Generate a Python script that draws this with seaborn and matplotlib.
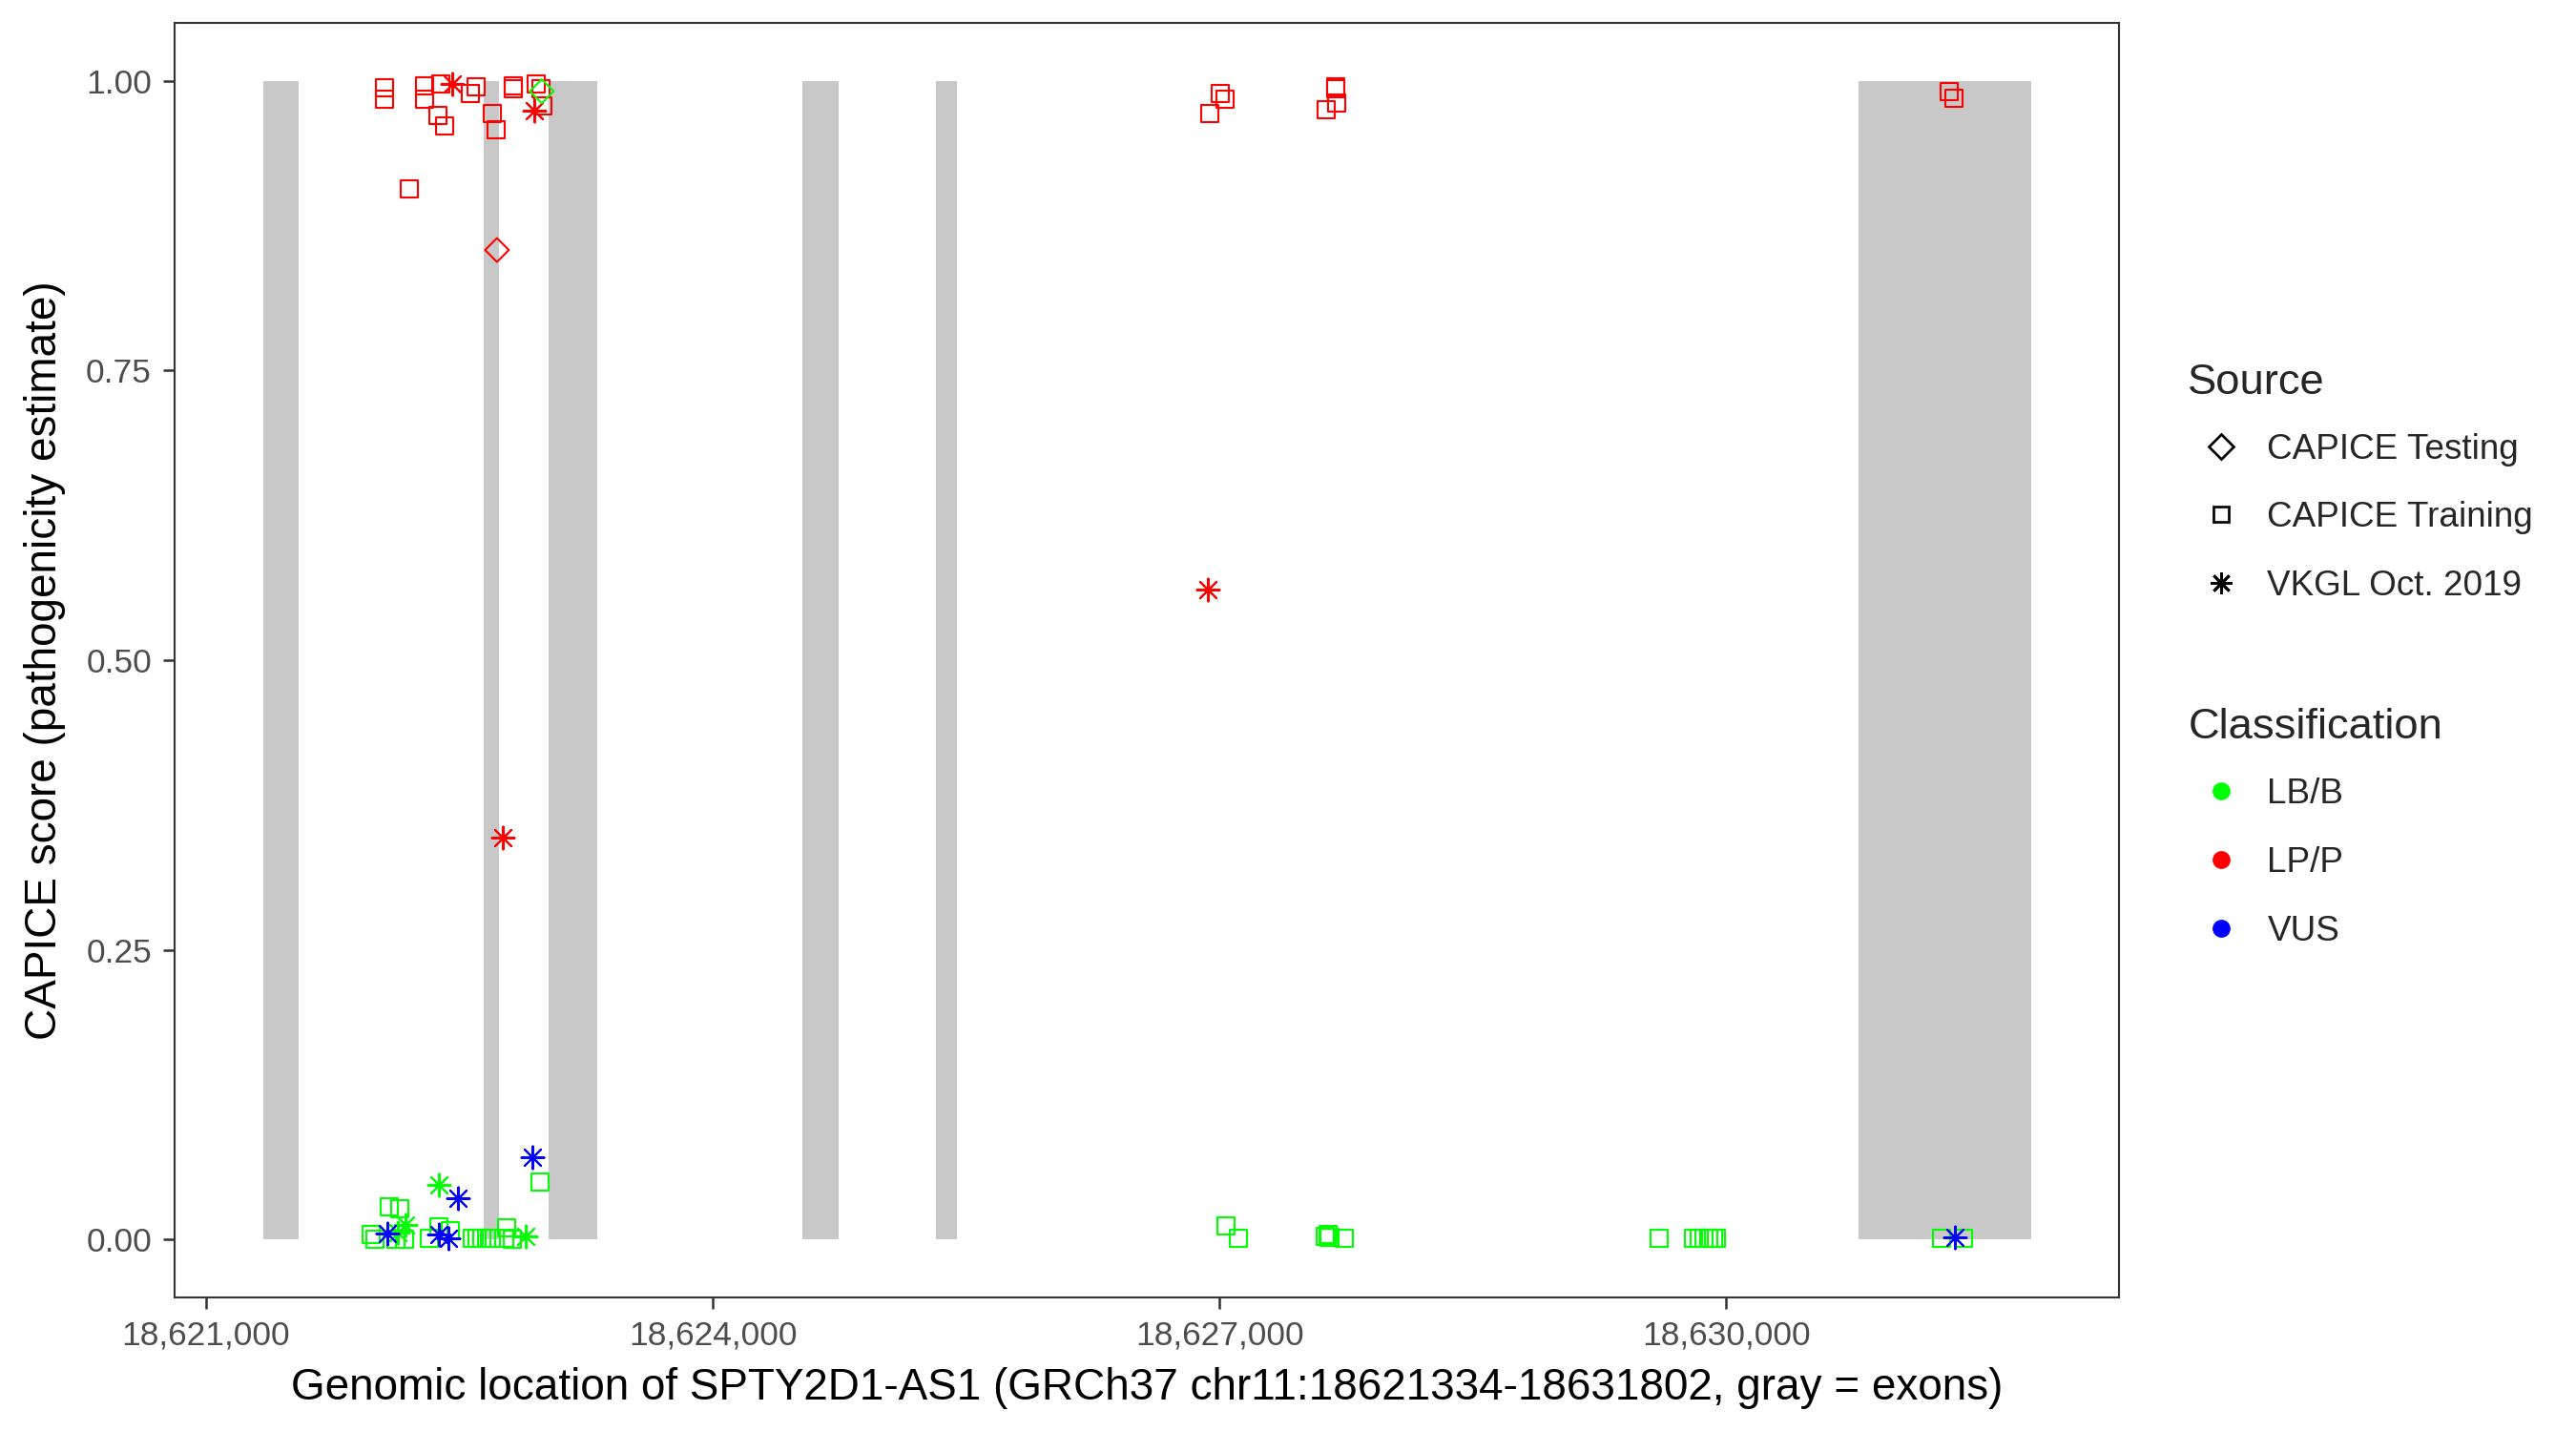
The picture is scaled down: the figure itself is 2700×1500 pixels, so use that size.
import pandas as pd
import numpy as np
import matplotlib
matplotlib.use("Agg")
import matplotlib.pyplot as plt
import seaborn as sns
from matplotlib.markers import MarkerStyle
from matplotlib.lines import Line2D
from matplotlib.ticker import FuncFormatter

# exons (gray bars)
exon_start = [18621341, 18622643, 18623026, 18624532, 18625321, 18630783]
exon_end = [18621550, 18622732, 18623314, 18624746, 18625445, 18631803]

# LP/P, CAPICE Training
lp_train_pos = [18622055, 18622055, 18622294, 18622294, 18622390, 18622373, 18622410, 18622566,
                18622596, 18622696, 18622716, 18622818, 18622818, 18622953, 18622981, 18622994,
                18622202, 18626942, 18627006, 18627034, 18627688, 18627690, 18627692, 18627632,
                18631320, 18631347]
lp_train_score = [0.994, 0.984, 0.996, 0.984, 0.997, 0.970, 0.961, 0.989,
                  0.995, 0.972, 0.958, 0.996, 0.993, 0.997, 0.993, 0.978,
                  0.907, 0.972, 0.989, 0.984, 0.995, 0.993, 0.981, 0.975,
                  0.991, 0.985]
# LP/P, VKGL
lp_vkgl_pos = [18622455, 18622944, 18622757, 18626932]
lp_vkgl_score = [0.997, 0.974, 0.347, 0.561]
# CAPICE Testing
lp_test_pos = [18622722]
lp_test_score = [0.854]
lb_test_pos = [18622987]
lb_test_score = [0.991]

# LB/B, CAPICE Training
lb_train_pos = [18621976, 18622000, 18622085, 18622145, 18622126, 18622173, 18622380, 18622446,
                18622324, 18622576, 18622604, 18622632, 18622660, 18622688, 18622777, 18622765,
                18622812, 18622978, 18627036, 18627111, 18627628, 18627645, 18627651, 18627739,
                18629605, 18629808, 18629840, 18629868, 18629896, 18629925, 18629943, 18631277,
                18631405]
lb_train_score = [0.004, 0.0, 0.028, 0.027, 0.0, 0.0, 0.011, 0.008,
                  0.001, 0.001, 0.001, 0.001, 0.001, 0.001, 0.010, 0.001,
                  0.0, 0.050, 0.012, 0.001, 0.003, 0.004, 0.002, 0.001,
                  0.001, 0.001, 0.001, 0.001, 0.001, 0.001, 0.001, 0.001,
                  0.001]
# LB/B, VKGL
lb_vkgl_pos = [18622179, 18622136, 18622378, 18622891]
lb_vkgl_score = [0.013, 0.006, 0.047, 0.003]
# VUS, VKGL
vus_vkgl_pos = [18622074, 18622489, 18622380, 18622436, 18622931, 18631352]
vus_vkgl_score = [0.005, 0.036, 0.004, 0.001, 0.071, 0.0015]

sources = ["CAPICE Testing", "CAPICE Training", "VKGL Oct. 2019"]
classes = ["LB/B", "LP/P", "VUS"]

rows = []
def add(pos, score, src, cls):
    for p, s in zip(pos, score):
        rows.append({"pos": p, "score": s, "Source": src, "Classification": cls})

add(lb_train_pos, lb_train_score, "CAPICE Training", "LB/B")
add(lp_train_pos, lp_train_score, "CAPICE Training", "LP/P")
add(lb_vkgl_pos, lb_vkgl_score, "VKGL Oct. 2019", "LB/B")
add(vus_vkgl_pos, vus_vkgl_score, "VKGL Oct. 2019", "VUS")
add(lp_vkgl_pos, lp_vkgl_score, "VKGL Oct. 2019", "LP/P")
add(lp_test_pos, lp_test_score, "CAPICE Testing", "LP/P")
add(lb_test_pos, lb_test_score, "CAPICE Testing", "LB/B")
df = pd.DataFrame(rows)

sns.set_theme(style="white")
plt.rcParams['font.family'] = ['Liberation Sans', 'DejaVu Sans']

colors = {"LB/B": "#00FF00", "LP/P": "#FF0000", "VUS": "#0000FF"}
markers = {"CAPICE Testing": MarkerStyle("D", fillstyle="none"),
           "CAPICE Training": MarkerStyle("s", fillstyle="none"),
           "VKGL Oct. 2019": (8, 2, 0)}
sizes = {"CAPICE Testing": 72, "CAPICE Training": 75, "VKGL Oct. 2019": 130}

fig, ax = plt.subplots(figsize=(18, 10), dpi=150)
fig.subplots_adjust(left=0.0676, right=0.8226, top=0.984, bottom=0.0933)

ax.bar(exon_start, height=1.0, width=np.array(exon_end) - np.array(exon_start),
       bottom=0, align="edge", color="#C8C8C8", linewidth=0, zorder=1)

for (src, cls), sub in df.groupby(["Source", "Classification"], sort=False):
    sns.scatterplot(data=sub, x="pos", y="score", ax=ax, marker=markers[src],
                    color=colors[cls], s=sizes[src], linewidth=1.0, zorder=3, legend=False)

gene_start, gene_end = 18621334, 18631802
span = gene_end - gene_start
ax.set_xlim(gene_start - 0.05 * span, gene_end + 0.05 * span)
ax.set_ylim(-0.05, 1.05)
ax.set_xticks([18621000, 18624000, 18627000, 18630000])
ax.xaxis.set_major_formatter(FuncFormatter(lambda v, p: f"{int(v):,}"))
ax.set_yticks([0, 0.25, 0.5, 0.75, 1.0])
ax.set_yticklabels(["0.00", "0.25", "0.50", "0.75", "1.00"])
ax.tick_params(axis="both", which="major", length=5.8, width=1.2, color="#333333",
               labelsize=17, labelcolor="#4D4D4D", bottom=True, left=True, pad=5.5)
ax.set_xlabel("Genomic location of SPTY2D1-AS1 (GRCh37 chr11:18621334-18631802, gray = exons)",
              fontsize=22, color="black", labelpad=8)
ax.set_ylabel("CAPICE score (pathogenicity estimate)", fontsize=22, color="black", labelpad=10)
for sp in ax.spines.values():
    sp.set_color("#333333")
    sp.set_linewidth(1.0)
ax.grid(False)

src_handles = [Line2D([], [], linestyle="none", marker=MarkerStyle("D", fillstyle="none"),
                      markersize=8.5, markeredgecolor="black", markeredgewidth=1.3),
               Line2D([], [], linestyle="none", marker=MarkerStyle("s", fillstyle="none"),
                      markersize=8.0, markeredgecolor="black", markeredgewidth=1.3),
               Line2D([], [], linestyle="none", marker=(8, 2, 0), markersize=11,
                      color="black", markeredgewidth=1.3)]
cls_handles = [Line2D([], [], linestyle="none", marker="o", markersize=9,
                      color=colors[c], markeredgewidth=0) for c in classes]

leg_kw = dict(loc="upper left", frameon=False, fontsize=17.7, title_fontsize=21.8,
              handlelength=1.9, handletextpad=0.35, labelspacing=1.0, borderpad=0,
              alignment="left")
leg1 = fig.legend(src_handles, sources, title="Source", bbox_to_anchor=(0.8426, 0.7584), **leg_kw)
leg2 = fig.legend(cls_handles, classes, title="Classification", bbox_to_anchor=(0.8426, 0.5173), **leg_kw)
for leg in (leg1, leg2):
    leg._legend_box.sep = 15.2  # gap between title and keys, points

fig.savefig("out.png", dpi=150)
